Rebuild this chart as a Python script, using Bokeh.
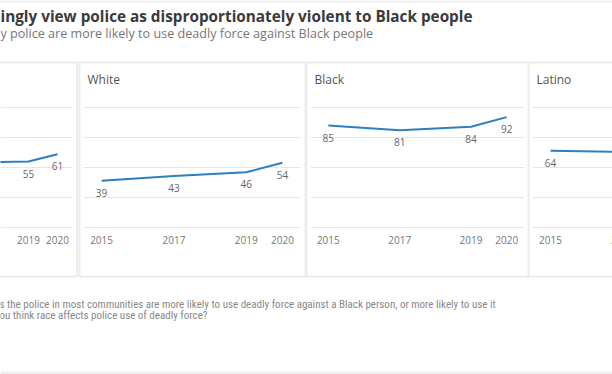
from bokeh.plotting import figure
from bokeh.models import Range1d
from bokeh.core.properties import value
from bokeh.embed import file_html
from bokeh.resources import INLINE

# ---------------- data ----------------
tick_years = [2015, 2017, 2019, 2020]
tick_labels = ["2015", "2017", "2019", "2020"]
grid_values = [0, 25, 50, 75, 100]

panel_names = ["All", "White", "Black", "Latino"]
all_years = [2017, 2019, 2020]
all_values = [54, 55, 61]
white_years = [2015, 2017, 2019, 2020]
white_values = [39, 43, 46, 54]
black_years = [2015, 2017, 2019, 2020]
black_values = [85, 81, 84, 92]
latino_years = [2015, 2017]
latino_values = [64, 63]

title_text = "ingly view police as disproportionately violent to Black people"
subtitle_text = "y police are more likely to use deadly force against Black people"
note_lines = [
    "s the police in most communities are more likely to use deadly force against a Black person, or more likely to use it",
    "ou think race affects police use of deadly force?",
]

series = [
    (all_years, all_values),
    (white_years, white_values),
    (black_years, black_values),
    (latino_years, latino_values),
]

# ---------------- layout ----------------
W, H = 612, 374
Y0_PX = 227.0      # pixel row of value 0
PX_PER_UNIT = 1.2  # pixels per percentage point
X_LO, X_HI = 2014.5, 2020.5
# pixel span of each panel's plotting area (for X_LO..X_HI)
frames = [(-102.5, 71.5), (83, 300), (310, 524), (532, 748)]
show_title = [False, True, True, True]

FONT = value("Open Sans")
LINE_BLUE = "#2f7fbf"


def v_at(py):
    return (Y0_PX - py) / PX_PER_UNIT


p = figure(width=W, height=H, x_range=Range1d(0, W), y_range=Range1d(v_at(H), v_at(0)),
           x_axis_type=None, y_axis_type=None, output_backend="svg",
           toolbar_location=None, min_border=0, outline_line_color=None)
p.background_fill_color = "white"
p.border_fill_color = "white"

# page bands
p.quad(left=[0, 0], right=[W, W], top=[v_at(0), v_at(371)], bottom=[v_at(2), v_at(H)],
       fill_color="#efefef", line_color=None)

for i, name in enumerate(panel_names):
    gx0, gx1 = frames[i]
    k = (gx1 - gx0) / (X_HI - X_LO)
    rname = "panel%d" % i
    p.extra_x_ranges[rname] = Range1d(X_LO + (0 - gx0) / k, X_LO + (W - gx0) / k)

    def px_of(yr):
        return gx0 + (yr - X_LO) * k

    def vis(yr, half):
        x = px_of(yr)
        return x + half > 0 and x - half < W

    # panel box
    p.quad(left=[X_LO - 4 / k], right=[X_HI + 5 / k], top=[v_at(62)], bottom=[v_at(276)],
           fill_color="white", line_color="#ececec", line_width=2, x_range_name=rname)
    # gridlines
    p.segment(x0=[X_LO] * len(grid_values), x1=[X_HI] * len(grid_values),
              y0=grid_values, y1=grid_values, line_color="#e6e6e6", line_width=1,
              x_range_name=rname)
    # panel title
    if show_title[i]:
        p.text(x=[X_LO], y=[v_at(79)], text=[name], x_offset=4, text_align="left",
               text_baseline="middle", text_font=FONT, text_font_size="12px",
               text_color="#555555", x_range_name=rname)
    # tick labels
    tx = [t for t, lab in zip(tick_years, tick_labels) if vis(t, 12)]
    tl = [lab for t, lab in zip(tick_years, tick_labels) if vis(t, 12)]
    p.text(x=tx, y=[v_at(239)] * len(tx), text=tl, text_align="center",
           text_baseline="middle", text_font=FONT, text_font_size="10px",
           text_color="#777777", x_range_name=rname)
    # data line
    yrs, vals = series[i]
    p.line(yrs, vals, line_color=LINE_BLUE, line_width=2, x_range_name=rname)
    # data labels
    lx = [y for y, v in zip(yrs, vals) if vis(y, 5)]
    lv = [v for y, v in zip(yrs, vals) if vis(y, 5)]
    p.text(x=lx, y=lv, text=[str(v) for v in lv], y_offset=12, text_align="center",
           text_baseline="middle", text_font=FONT, text_font_size="10px",
           text_color="#666666", x_range_name=rname)

# header
p.text(x=[0], y=[v_at(15)], text=[title_text], text_align="left", text_baseline="middle",
       text_font=FONT, text_font_style="bold", text_font_size="15.3px", text_color="#3a3a3a")
p.text(x=[0], y=[v_at(33)], text=[subtitle_text], text_align="left", text_baseline="middle",
       text_font=FONT, text_font_size="12.6px", text_color="#777777")
# note
p.text(x=[-1, -1], y=[v_at(304), v_at(315)], text=note_lines, text_align="left",
       text_baseline="middle", text_font=value("Roboto Condensed"),
       text_font_size="11px", text_color="#888888")

open("out.html", "w").write(file_html(p, INLINE))
